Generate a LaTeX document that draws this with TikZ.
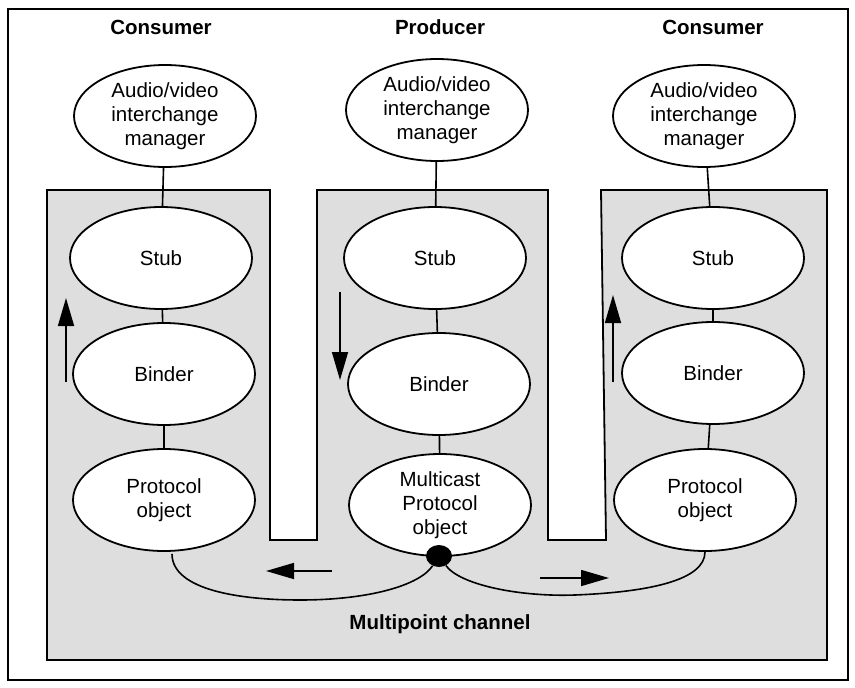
\documentclass[tikz,border=0pt]{standalone}
\usepackage{fontspec}
\setmainfont{Liberation Sans}
\usetikzlibrary{arrows.meta,shapes.geometric}

\begin{document}
\begin{tikzpicture}[x=1pt,y=-1pt]
\tikzstyle{obj} = [ellipse, draw=black, line width=1.8pt, fill=white,
minimum width=182pt, minimum height=102pt, inner sep=0pt, align=center,
font=\fontsize{20.5}{24}\selectfont]
\tikzstyle{title} = [font=\fontsize{20.5}{24}\selectfont\bfseries]
\tikzstyle{link} = [draw, line width=1.6pt]
\tikzstyle{flow} = [draw, line width=1.6pt, -{Triangle[length=28pt,width=16pt]}]
\useasboundingbox (0,0) rectangle (855,688);
\draw[line width=1.2pt] (8,9) rectangle (848,680);
% shaded area with the two notches
\draw[line width=1.8pt, fill={rgb,255:red,222;green,222;blue,222}]
  (47,190) -- (270,190) -- (270,540) -- (317,540) -- (317,190)
  -- (548,190) -- (548,540) -- (606,540) -- (601,190) -- (827,190)
  -- (827,660) -- (47,660) -- cycle;
% headings
\node [title] (consL) at (161,27) {Consumer};
\node [title] (prod) at (440,27) {Producer};
\node [title] (consR) at (713,27) {Consumer};
% left column
\node [obj] (avL) at (165,116) {Audio/video\\interchange\\manager};
\node [obj] (stubL) at (161,258) {Stub};
\node [obj] (binderL) at (164,374) {Binder};
\node [obj] (protoL) at (164,500) {Protocol\\object};
% middle column
\node [obj] (avM) at (437,110) {Audio/video\\interchange\\manager};
\node [obj] (stubM) at (435,258) {Stub};
\node [obj] (binderM) at (439,384) {Binder};
\node [obj] (protoM) at (440,505) {Multicast\\Protocol\\object};
% right column
\node [obj] (avR) at (704,116) {Audio/video\\interchange\\manager};
\node [obj] (stubR) at (713,258) {Stub};
\node [obj] (binderR) at (713,373) {Binder};
\node [obj] (protoR) at (705,500) {Protocol\\object};
\node [ellipse, fill=black, minimum width=26pt, minimum height=22pt, inner sep=0pt] (hub) at (439,556) {};
\node [title] (chan) at (440,624) {Multipoint channel};
\coordinate (upL1) at (66,382);  \coordinate (upL2) at (66,298);
\coordinate (dnM1) at (340,292); \coordinate (dnM2) at (340,380);
\coordinate (upR1) at (613,382); \coordinate (upR2) at (613,295);
\coordinate (toL1) at (332,571); \coordinate (toL2) at (266,571);
\coordinate (toR1) at (540,578); \coordinate (toR2) at (609,578);

\path [link] (avL) -- (stubL) (stubL) -- (binderL) (binderL) -- (protoL);
\path [link] (avM) -- (stubM) (stubM) -- (binderM) (binderM) -- (protoM);
\path [link] (avR) -- (stubR) (stubR) -- (binderR) (binderR) -- (protoR);
\path [link] (protoL.south) ++(8,2) .. controls (172,590) and (240,600) .. (300,600)
  .. controls (370,600) and (420,585) .. (hub);
\path [link] (hub) .. controls (460,585) and (520,597) .. (575,595)
  .. controls (650,592) and (705,580) .. (protoR.south);
\path [flow] (upL1) -- (upL2);
\path [flow] (dnM1) -- (dnM2);
\path [flow] (upR1) -- (upR2);
\path [flow] (toL1) -- (toL2);
\path [flow] (toR1) -- (toR2);
\end{tikzpicture}
\end{document}
